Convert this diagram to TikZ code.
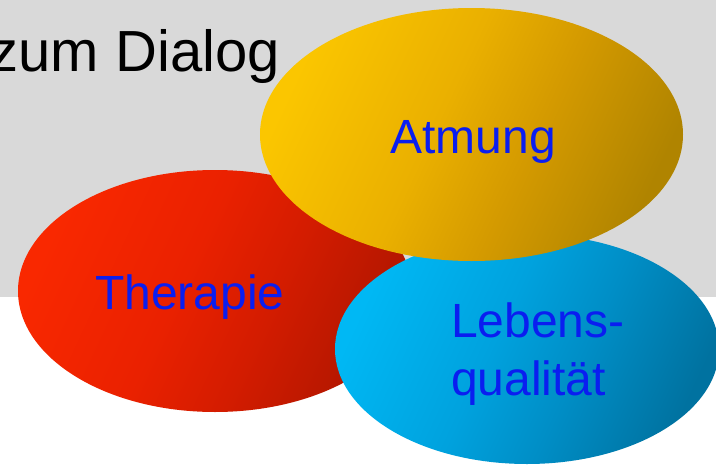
\documentclass[tikz,border=0pt]{standalone}
\usepackage{fontspec}
\setmainfont{Liberation Sans}
\definecolor{panelgray}{RGB}{217,217,217}
\definecolor{labelblue}{RGB}{10,30,240}
\definecolor{redA}{RGB}{249,40,0}
\definecolor{redB}{RGB}{234,33,0}
\definecolor{redM}{RGB}{212,28,0}
\definecolor{redC}{RGB}{176,22,0}
\definecolor{ambA}{RGB}{251,198,0}
\definecolor{ambB}{RGB}{234,176,0}
\definecolor{ambM}{RGB}{212,154,0}
\definecolor{ambC}{RGB}{176,132,0}
\definecolor{cyaA}{RGB}{0,184,244}
\definecolor{cyaB}{RGB}{0,162,222}
\definecolor{cyaM}{RGB}{0,142,198}
\definecolor{cyaC}{RGB}{0,114,160}
% bottom (dark) to top (light); rotated so the light side is upper left
\pgfdeclareverticalshading{redbubble}{100bp}{color(0bp)=(redC); color(25bp)=(redC); color(42bp)=(redM); color(55bp)=(redB); color(75bp)=(redA); color(100bp)=(redA)}
\pgfdeclareverticalshading{ambbubble}{100bp}{color(0bp)=(ambC); color(25bp)=(ambC); color(42bp)=(ambM); color(55bp)=(ambB); color(75bp)=(ambA); color(100bp)=(ambA)}
\pgfdeclareverticalshading{cyabubble}{100bp}{color(0bp)=(cyaC); color(25bp)=(cyaC); color(42bp)=(cyaM); color(55bp)=(cyaB); color(75bp)=(cyaA); color(100bp)=(cyaA)}
\tikzset{
  label text/.style={text=labelblue, inner sep=0pt, font=\fontsize{48}{58}\selectfont},
}
\begin{document}
\begin{tikzpicture}[x=1pt, y=-1pt]
  \useasboundingbox (0,0) rectangle (716,464);
  % grey header panel
  \fill[panelgray] (0,0) rectangle (716,297);
  \node[anchor=base east, inner sep=0pt, font=\fontsize{58}{70}\selectfont] (title) at (280,71) {zum Dialog};
  % the three overlapping bubbles
  \shade[shading=redbubble, shading angle=65] (215,291) ellipse [x radius=197, y radius=121];
  \shade[shading=cyabubble, shading angle=65] (527,349) ellipse [x radius=192, y radius=115];
  \shade[shading=ambbubble, shading angle=65] (471.5,134.5) ellipse [x radius=211.5, y radius=126.5];
  % bubble labels
  \node[label text, anchor=base] (atmung) at (473,153) {Atmung};
  \node[label text, anchor=base] (therapie) at (190,309) {Therapie};
  \node[label text, anchor=base west] (lebens) at (451,337) {Lebens-};
  \node[label text, anchor=base west] (qualitaet) at (451,395) {qualität};
\end{tikzpicture}
\end{document}
